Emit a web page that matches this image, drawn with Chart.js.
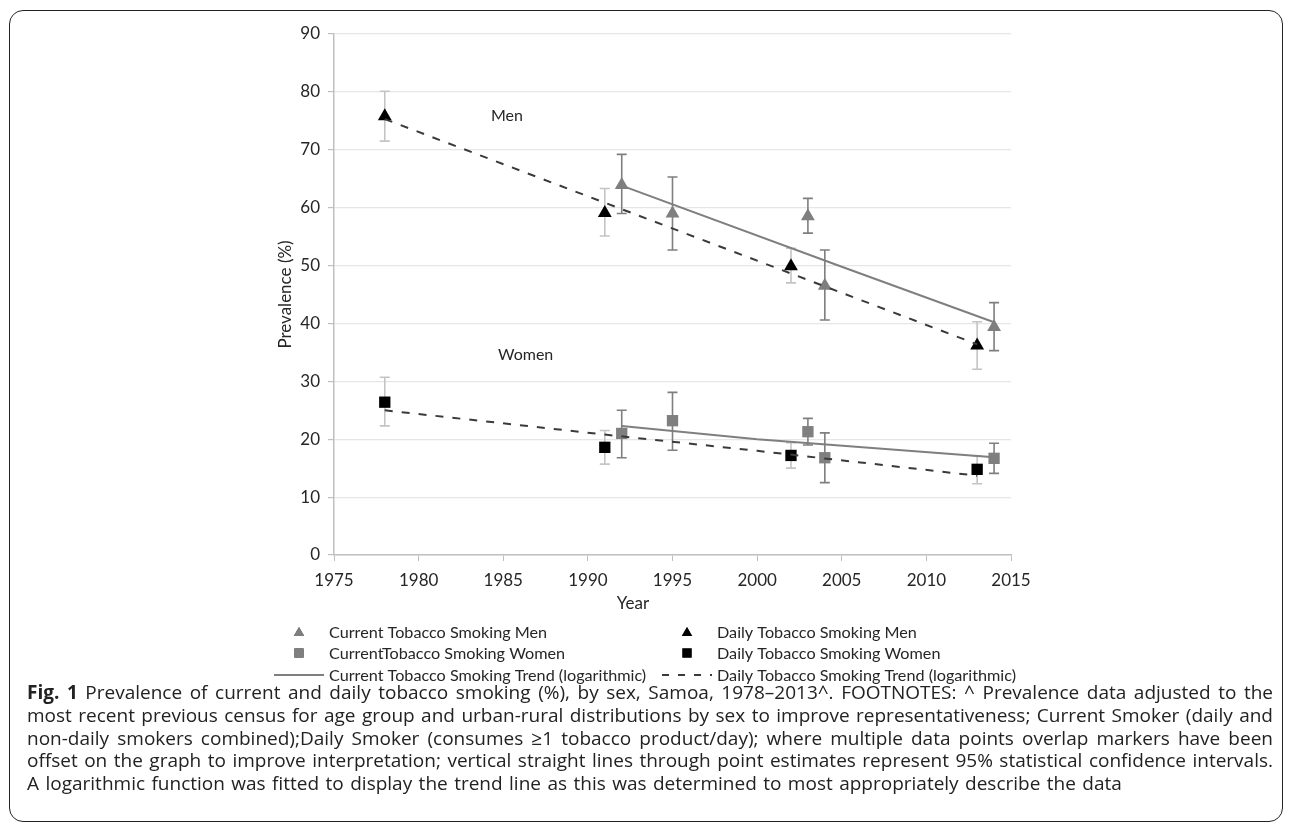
<!DOCTYPE html>
<html>
<head>
<meta charset="utf-8">
<script src="https://cdn.jsdelivr.net/npm/chart.js@4.4.1/dist/chart.umd.min.js"></script>
<style>
  html, body { margin: 0; padding: 0; background: #fff; }
  body { width: 1292px; height: 824px; position: relative; overflow: hidden; }
  #frame {
    position: absolute; left: 9px; top: 10px; width: 1274px; height: 812px;
    border: 1.5px solid #222; border-radius: 14px; box-sizing: border-box;
  }
  #chartCanvas { position: absolute; left: 0; top: 0; }
  #caption {
    position: absolute; left: 27px; top: 681px; width: 1246px;
    font-family: "Open Sans", "Noto Sans", sans-serif; font-size: 19px;
    line-height: 22.8px; color: #222;
  }
  #caption div { white-space: nowrap; text-align: justify; text-align-last: justify; }
  #caption div.last { text-align-last: left; word-spacing: 1.5px; }
</style>
</head>
<body>
<div id="frame"></div>
<canvas id="chartCanvas" width="1292" height="690"></canvas>
<div id="caption">
  <div><b>Fig. 1</b> Prevalence of current and daily tobacco smoking (%), by sex, Samoa, 1978–2013^. FOOTNOTES: ^ Prevalence data adjusted to the</div>
  <div>most recent previous census for age group and urban-rural distributions by sex to improve representativeness; Current Smoker (daily and</div>
  <div>non-daily smokers combined);Daily Smoker (consumes ≥1 tobacco product/day); where multiple data points overlap markers have been</div>
  <div>offset on the graph to improve interpretation; vertical straight lines through point estimates represent 95% statistical confidence intervals.</div>
  <div class="last">A logarithmic function was fitted to display the trend line as this was determined to most appropriately describe the data</div>
</div>
<script>
// ---------- data ----------
const menCurrentYears = [1992, 1995, 2003, 2004, 2014];
const menCurrent = [63.9, 59.0, 58.5, 46.5, 39.4];
const menCurrentLow = [59.0, 52.7, 55.6, 40.6, 35.3];
const menCurrentHigh = [69.2, 65.3, 61.6, 52.7, 43.6];

const menDailyYears = [1978, 1991, 2002, 2013];
const menDaily = [75.8, 59.1, 49.9, 36.2];
const menDailyLow = [71.5, 55.1, 47.0, 32.1];
const menDailyHigh = [80.1, 63.3, 53.0, 40.3];

const womenCurrentYears = [1992, 1995, 2003, 2004, 2014];
const womenCurrent = [21.0, 23.2, 21.3, 16.8, 16.7];
const womenCurrentLow = [16.8, 18.1, 19.0, 12.5, 14.1];
const womenCurrentHigh = [25.0, 28.1, 23.6, 21.1, 19.3];

const womenDailyYears = [1978, 1991, 2002, 2013];
const womenDaily = [26.4, 18.6, 17.2, 14.8];
const womenDailyLow = [22.3, 15.7, 15.0, 12.3];
const womenDailyHigh = [30.7, 21.5, 19.4, 17.1];

// trend lines
const menCurrentTrendYears = [1992, 2005, 2014];
const menCurrentTrend = [63.8, 49.8, 40.2];
const menDailyTrendYears = [1978, 2013];
const menDailyTrend = [75.3, 36.4];
const womenCurrentTrendYears = [1992, 2000, 2014];
const womenCurrentTrend = [22.3, 20.0, 16.9];
const womenDailyTrendYears = [1978, 1991, 2000, 2013];
const womenDailyTrend = [25.0, 20.8, 18.0, 13.7];

const xTicks = [1975, 1980, 1985, 1990, 1995, 2000, 2005, 2010, 2015];
const yTicks = [0, 10, 20, 30, 40, 50, 60, 70, 80, 90];

const GRAY = '#7f7f7f';
const TEXT = '#262626';
const FONT = 'Lato, "Open Sans", sans-serif';

function pts(xs, ys) {
  return xs.map((x, i) => ({ x, y: ys[i] }));
}

function markerSet(label, xs, ys, lo, hi, style, color, barColor) {
  return {
    label,
    data: pts(xs, ys),
    errLow: lo,
    errHigh: hi,
    barColor,
    pointStyle: style,
    pointRadius: 8,
    backgroundColor: color,
    borderColor: color,
    borderWidth: 0,
    showLine: false,
  };
}

function trendSet(label, xs, ys, dashed) {
  return {
    label,
    data: pts(xs, ys),
    showLine: true,
    pointRadius: 0,
    borderColor: dashed ? '#3a3a3a' : GRAY,
    borderWidth: 2,
    borderDash: dashed ? [8, 9] : [],
    tension: 0,
  };
}

// ---------- plugins ----------
const errorBars = {
  id: 'errorBars',
  beforeDatasetsDraw(chart) {
    const { ctx, scales: { x, y } } = chart;
    ctx.save();
    chart.data.datasets.forEach((ds) => {
      if (!ds.errLow) return;
      ctx.strokeStyle = ds.barColor;
      ctx.lineWidth = 1.6;
      ds.data.forEach((p, i) => {
        const px = x.getPixelForValue(p.x);
        const top = y.getPixelForValue(ds.errHigh[i]);
        const bot = y.getPixelForValue(ds.errLow[i]);
        ctx.beginPath();
        ctx.moveTo(px, top); ctx.lineTo(px, bot);
        ctx.moveTo(px - 5, top); ctx.lineTo(px + 5, top);
        ctx.moveTo(px - 5, bot); ctx.lineTo(px + 5, bot);
        ctx.stroke();
      });
    });
    ctx.restore();
  },
};

const legendItems = [
  { text: 'Current Tobacco Smoking Men', kind: 'triangle', color: GRAY, col: 0, row: 0 },
  { text: 'Daily Tobacco Smoking Men', kind: 'triangle', color: '#000', col: 1, row: 0 },
  { text: 'CurrentTobacco Smoking Women', kind: 'rect', color: GRAY, col: 0, row: 1 },
  { text: 'Daily Tobacco Smoking Women', kind: 'rect', color: '#000', col: 1, row: 1 },
  { text: 'Current Tobacco Smoking Trend (logarithmic)', kind: 'solid', color: GRAY, col: 0, row: 2 },
  { text: 'Daily Tobacco Smoking Trend (logarithmic)', kind: 'dash', color: '#3a3a3a', col: 1, row: 2 },
];

const annotations = {
  id: 'annotations',
  afterDraw(chart) {
    const { ctx, scales: { y } } = chart;
    ctx.save();
    ctx.fillStyle = TEXT;
    ctx.font = '16px ' + FONT;

    // series labels
    ctx.textAlign = 'left';
    ctx.textBaseline = 'alphabetic';
    ctx.fillText('Men', 491, 121);
    ctx.fillText('Women', 498, 360);

    // axis titles
    ctx.font = '17px ' + FONT;
    ctx.textAlign = 'center';
    ctx.fillText('Year', 633, 609);
    ctx.save();
    ctx.translate(291, (y.top + y.bottom) / 2);
    ctx.rotate(-Math.PI / 2);
    ctx.fillText('Prevalence (%)', 0, 0);
    ctx.restore();

    // legend
    const colMarker = [299, 687];
    const colText = [329, 717];
    const rowY = [632, 653, 675];
    ctx.font = '16.2px ' + FONT;
    ctx.textAlign = 'left';
    ctx.textBaseline = 'middle';
    legendItems.forEach((it) => {
      const mx = colMarker[it.col];
      const my = rowY[it.row];
      if (it.kind === 'triangle' || it.kind === 'rect') {
        Chart.helpers.drawPoint(ctx, {
          pointStyle: it.kind, radius: it.kind === 'triangle' ? 6 : 6.5, borderWidth: 0,
        }, mx, my + (it.kind === 'triangle' ? 1 : 0));
        ctx.fillStyle = it.color;
        ctx.fill();
      } else {
        ctx.strokeStyle = it.color;
        ctx.lineWidth = 1.8;
        ctx.setLineDash(it.kind === 'dash' ? [7, 9] : []);
        ctx.beginPath();
        ctx.moveTo(mx - 25, my);
        ctx.lineTo(mx + 25, my);
        ctx.stroke();
        ctx.setLineDash([]);
      }
      ctx.fillStyle = TEXT;
      ctx.fillText(it.text, colText[it.col], my + 1);
    });
    ctx.restore();
  },
};

// ---------- chart ----------
const canvas = document.getElementById('chartCanvas');

new Chart(canvas, {
  type: 'scatter',
  data: {
    datasets: [
      trendSet('Current Tobacco Smoking Trend Men', menCurrentTrendYears, menCurrentTrend, false),
      trendSet('Daily Tobacco Smoking Trend Men', menDailyTrendYears, menDailyTrend, true),
      trendSet('Current Tobacco Smoking Trend Women', womenCurrentTrendYears, womenCurrentTrend, false),
      trendSet('Daily Tobacco Smoking Trend Women', womenDailyTrendYears, womenDailyTrend, true),
      markerSet('Current Tobacco Smoking Men', menCurrentYears, menCurrent, menCurrentLow, menCurrentHigh, 'triangle', GRAY, GRAY),
      markerSet('Daily Tobacco Smoking Men', menDailyYears, menDaily, menDailyLow, menDailyHigh, 'triangle', '#000', '#c4c4c4'),
      markerSet('CurrentTobacco Smoking Women', womenCurrentYears, womenCurrent, womenCurrentLow, womenCurrentHigh, 'rect', GRAY, GRAY),
      markerSet('Daily Tobacco Smoking Women', womenDailyYears, womenDaily, womenDailyLow, womenDailyHigh, 'rect', '#000', '#c4c4c4'),
    ],
  },
  options: {
    responsive: false,
    animation: false,
    layout: { padding: { left: 250, top: 34, right: 281, bottom: 90 } },
    plugins: { legend: { display: false }, tooltip: { enabled: false } },
    scales: {
      x: {
        type: 'linear',
        min: xTicks[0],
        max: xTicks[xTicks.length - 1],
        afterBuildTicks: (s) => { s.ticks = xTicks.map((v) => ({ value: v })); },
        afterFit: (s) => { s.height = 45; },
        ticks: { callback: (v) => String(v), color: TEXT, font: { family: FONT, size: 17 }, padding: 9, maxRotation: 0 },
        grid: { drawOnChartArea: false, color: '#bfbfbf', tickLength: 6 },
        border: { color: '#bfbfbf', width: 1.5 },
      },
      y: {
        min: yTicks[0],
        max: yTicks[yTicks.length - 1],
        afterBuildTicks: (s) => { s.ticks = yTicks.map((v) => ({ value: v })); },
        afterFit: (s) => { s.width = 84; },
        ticks: { color: TEXT, font: { family: FONT, size: 17 }, padding: 8 },
        grid: { color: '#e6e6e6', tickColor: '#bfbfbf', tickLength: 6, lineWidth: 1.2 },
        border: { color: '#bfbfbf', width: 1.5 },
      },
    },
  },
  plugins: [errorBars, annotations],
});

// squeeze any caption line that is wider than the column
const CAPTION_WIDTH = 1246;
document.querySelectorAll('#caption div').forEach((line) => {
  const probe = document.createElement('span');
  probe.innerHTML = line.innerHTML;
  probe.style.whiteSpace = 'nowrap';
  line.innerHTML = '';
  line.appendChild(probe);
  const w = probe.getBoundingClientRect().width;
  const chars = probe.textContent.length;
  if (w > CAPTION_WIDTH) {
    line.style.letterSpacing = ((CAPTION_WIDTH - w - 2) / chars).toFixed(3) + 'px';
  }
  line.innerHTML = probe.innerHTML;
});
</script>
</body>
</html>
